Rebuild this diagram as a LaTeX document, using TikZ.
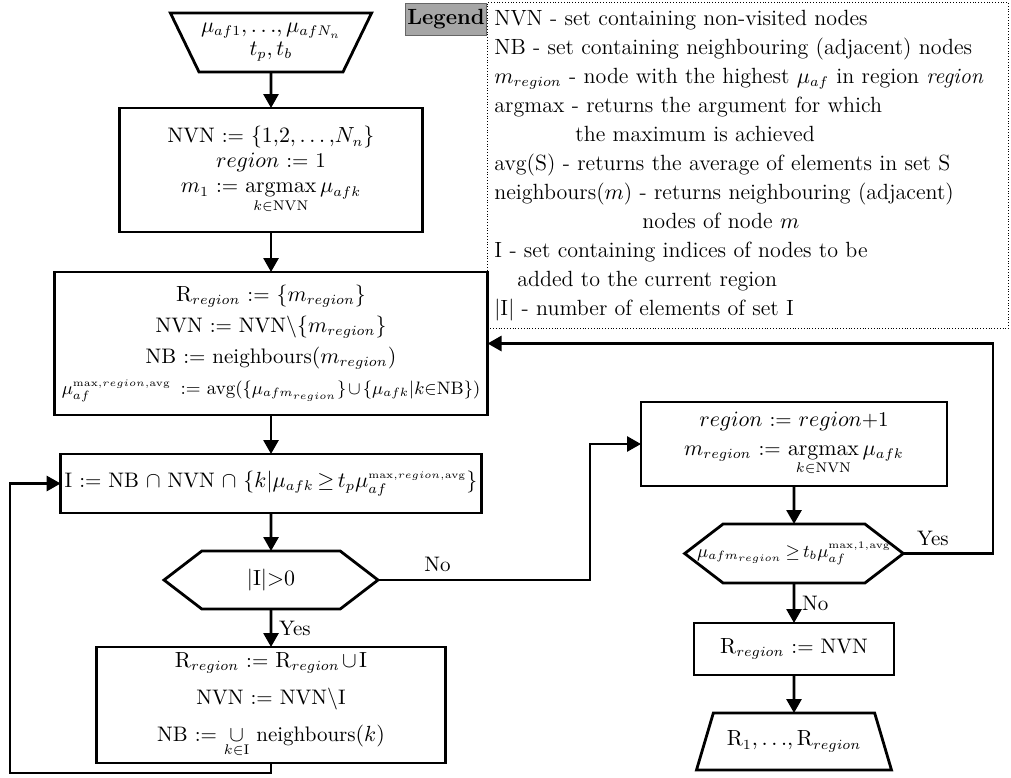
\documentclass[tikz,border=0pt]{standalone}
\usepackage{amsmath}
\usepackage{amssymb}
\usepackage{tikz}
\usetikzlibrary{shapes.geometric, shapes.symbols, arrows.meta, positioning}
\DeclareMathSizes{9.5}{9.5}{6.5}{5}
\DeclareMathSizes{10.5}{10.5}{7}{5.5}
\DeclareMathSizes{11}{11}{7}{5.5}
\newcommand{\tightmath}{\medmuskip=2mu\relax\thickmuskip=3mu\relax}
\newcommand{\supavg}[1]{^{\scriptscriptstyle\mathrm{max},#1,\mathrm{avg}}}
\newcommand{\smallline}{\fontsize{9.5}{12}\selectfont\tightmath}
\tikzstyle{arrow} = [line width=1.4pt,-{Triangle[length=7pt,width=7.5pt]}]

\begin{document}
\begin{tikzpicture}[x=0.5pt, y=-0.5pt,
      font=\fontsize{10.5}{12.5}\selectfont\tightmath,
      process/.style={rectangle, draw, line width=1.4pt, align=center, inner sep=2pt, outer sep=0pt},
      decision/.style={signal, signal to=east and west, signal pointer angle=75, draw, line width=1.4pt, inner sep=1pt, outer sep=0pt},
      io/.style={trapezium, trapezium left angle=56, trapezium right angle=56, trapezium stretches body, draw, line width=1.4pt, align=center, inner sep=1pt, outer sep=0pt},
      node distance=19pt
          ]
        \useasboundingbox (0,0) rectangle (1011,777);

        % Input data
        \node (input) [io, shape border rotate=180, minimum width=97.5pt, minimum height=29.5pt] at (271,42.5) {$\mu_{af1}{,}\,{\ldots}{,}\,\mu_{afN_n}$\\[-1pt] $t_p{,}\,t_b$};

        % Initialisation
        \node (init) [process, below=18pt of input, minimum width=151.5pt, minimum height=62pt] {NVN := $\{1{,}2{,}\ldots{,}N_n\}$\\ $region$ := 1\\ $m_1$ := $\mathop{\mathrm{argmax}}\limits_{k\in\mathrm{NVN}} \mu_{afk}$};

        % New region
        \node (start) [process, below=20pt of init, minimum width=216.5pt, minimum height=71.5pt] {$\mathrm{R}_{region}$ := $\{m_{region}\}$\\[3pt] NVN := NVN$\backslash\{m_{region}\}$\\[3pt] NB := neighbours$(m_{region})$\\[3pt] {\smallline$\mu_{af}\supavg{region}$\enspace := avg$(\{\mu_{afm_{region}}\}\cup\{\mu_{afk}|k{\in}\mathrm{NB}\})$}};

        % Candidate nodes
        \node (cand) [process, below=19.5pt of start, minimum width=210pt, minimum height=29.5pt] {I := NB $\cap$ NVN $\cap$ $\{k|\mu_{afk}\geq t_p\mu_{af}\supavg{region}\}$};

        % Check I
        \node (check) [decision, below=19pt of cand, minimum width=107pt, minimum height=29pt] {$|\mathrm{I}|{>}0$};

        % Grow region
        \node (grow) [process, below=19pt of check, minimum width=174.5pt, minimum height=58pt] {$\mathrm{R}_{region}$ := $\mathrm{R}_{region}\cup\mathrm{I}$\\[6pt] NVN := NVN$\backslash$I\\[6pt] NB := $\mathop{\cup}\limits_{k\in\mathrm{I}}$ neighbours$(k)$};

        % Next region
        \node (newreg) [process, minimum width=153pt, minimum height=42pt] at (794,444) {$region$ := $region$+1\\[2pt] $m_{region}$ := $\mathop{\mathrm{argmax}}\limits_{k\in\mathrm{NVN}} \mu_{afk}$};

        % Check threshold
        \node (thresh) [decision, below=19pt of newreg, minimum width=107.5pt, minimum height=29.5pt, inner xsep=-13pt, font=\smallline] {$\mu_{afm_{region}}\geq t_b\mu_{af}\supavg{1}$};

        % Last region
        \node (last) [process, below=20pt of thresh, minimum width=100pt, minimum height=26pt] {$\mathrm{R}_{region}$ := NVN};

        % Output
        \node (output) [io, below=19pt of last, minimum width=97.5pt, minimum height=28.5pt] {$\mathrm{R}_1{,}\,{\ldots}{,}\,\mathrm{R}_{region}$};

        % Legend
        \node (legtext) [draw, densely dotted, anchor=north west, text width=253.5pt, inner xsep=3.5pt, inner ysep=2pt, minimum height=163pt, align=left, font=\fontsize{11}{14.5}\selectfont] at (487,2) {NVN - set containing non-visited nodes\\
NB - set containing neighbouring (adjacent) nodes\\
$m_{region}$ - node with the highest $\mu_{af}$ in region \textit{region}\\
argmax - returns the argument for which\\
\hspace*{40.5pt}the maximum is achieved\\
avg(S) - returns the average of elements in set S\\
neighbours($m$) - returns neighbouring (adjacent)\\
\hspace*{74pt}nodes of node $m$\\
I - set containing indices of nodes to be\\
\hspace*{11.5pt}added to the current region\\
$|$I$|$ - number of elements of set I};
        \node (legend) [draw=black!60, fill=black!35, anchor=north east, minimum width=36.5pt, minimum height=16pt, inner sep=1pt, font=\fontsize{11}{13}\selectfont\bfseries] at ([yshift=-0.5pt]legtext.north west) {Legend};

        % Turning points
        \coordinate (noturn) at (590,0);
        \coordinate (yesturn) at (993,0);
        \coordinate (loopbot) at (10,773);

        % Arrows
        \draw [arrow] (input) -- (init);
        \draw [arrow] (init) -- (start);
        \draw [arrow] (start) -- (cand);
        \draw [arrow] (cand) -- (check);
        \draw [arrow] (check) -- node[right]{Yes} (grow);
        \draw [arrow] (grow.south) |- (loopbot) |- (cand.west);

        \draw [arrow] (check.east) -- node[above, pos=0.28]{No} (check.east -| noturn) |- (newreg.west);
        \draw [arrow] (newreg) -- (thresh);
        \draw [arrow] (thresh) -- node[right]{No} (last);
        \draw [arrow] (last) -- (output);
        \draw [arrow] (thresh.east) -- node[above, pos=0.33]{Yes} (thresh.east -| yesturn) |- (start.east);

          \end{tikzpicture}
\end{document}
